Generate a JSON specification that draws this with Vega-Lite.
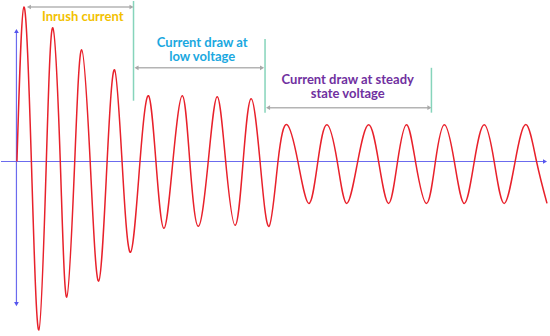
{
  "$schema": "https://vega.github.io/schema/vega-lite/v6.json",
  "width": 550,
  "height": 336,
  "autosize": {"type": "fit", "contains": "padding"},
  "padding": 0,
  "background": "white",
  "config": {"view": {"stroke": null}},
  "datasets": {
    "wave": [
      {"t": 16, "i": 0}, {"t": 23, "i": 155}, {"t": 30.5, "i": 0}, {"t": 38, "i": -169},
      {"t": 45.5, "i": 0}, {"t": 52, "i": 134}, {"t": 59.5, "i": 0}, {"t": 66, "i": -136},
      {"t": 74, "i": 0}, {"t": 81, "i": 112}, {"t": 89.5, "i": 0}, {"t": 98, "i": -120},
      {"t": 106.5, "i": 0}, {"t": 114, "i": 92}, {"t": 121.5, "i": 0}, {"t": 130, "i": -91},
      {"t": 139.5, "i": 0}, {"t": 148, "i": 66}, {"t": 155.5, "i": 0}, {"t": 163.5, "i": -67},
      {"t": 172.5, "i": 0}, {"t": 182, "i": 66}, {"t": 189.5, "i": 0}, {"t": 198, "i": -65},
      {"t": 208, "i": 0}, {"t": 217, "i": 65}, {"t": 225.5, "i": 0}, {"t": 235, "i": -64},
      {"t": 243, "i": 0}, {"t": 251, "i": 63}, {"t": 260, "i": 0}, {"t": 269, "i": -65},
      {"t": 278, "i": 0}, {"t": 287, "i": 37}, {"t": 298, "i": 0}, {"t": 309, "i": -42},
      {"t": 318, "i": 0}, {"t": 327, "i": 37}, {"t": 337.5, "i": 0}, {"t": 347, "i": -42},
      {"t": 358, "i": 0}, {"t": 369, "i": 37}, {"t": 379, "i": 0}, {"t": 389, "i": -42},
      {"t": 398, "i": 0}, {"t": 407, "i": 37}, {"t": 416, "i": 0}, {"t": 427, "i": -42},
      {"t": 436, "i": 0}, {"t": 445, "i": 37}, {"t": 455, "i": 0}, {"t": 465, "i": -42},
      {"t": 475, "i": 0}, {"t": 485, "i": 37}, {"t": 495, "i": 0}, {"t": 505, "i": -42},
      {"t": 516, "i": 0}, {"t": 527, "i": 37}, {"t": 537.5, "i": 0}, {"t": 548, "i": -42}
    ],
    "guides": [
      {"g": "axis", "x": 0, "x2": 545, "y": 0, "y2": 0},
      {"g": "axis", "x": 15.5, "x2": 15.5, "y": 130, "y2": -142},
      {"g": "marker", "x": 133, "x2": 133, "y": 161, "y2": 61},
      {"g": "marker", "x": 265, "x2": 265, "y": 123, "y2": 49},
      {"g": "marker", "x": 432, "x2": 432, "y": 94, "y2": 49},
      {"g": "span", "x": 28, "x2": 131, "y": 155, "y2": 155},
      {"g": "span", "x": 136, "x2": 262, "y": 94, "y2": 94},
      {"g": "span", "x": 268, "x2": 430, "y": 54, "y2": 54}
    ],
    "heads": [
      {"g": "axis", "dir": "right", "x": 546, "y": 0},
      {"g": "axis", "dir": "up", "x": 15.5, "y": 131},
      {"g": "axis", "dir": "down", "x": 15.5, "y": -143},
      {"g": "span", "dir": "left", "x": 28, "y": 155},
      {"g": "span", "dir": "right", "x": 131, "y": 155},
      {"g": "span", "dir": "left", "x": 136, "y": 94},
      {"g": "span", "dir": "right", "x": 262, "y": 94},
      {"g": "span", "dir": "left", "x": 268, "y": 54},
      {"g": "span", "dir": "right", "x": 430, "y": 54}
    ],
    "labels": [
      {"phase": "inrush", "text": "Inrush current", "x": 82, "y": 145},
      {"phase": "low", "text": "Current draw at\nlow voltage", "x": 202, "y": 119},
      {"phase": "steady", "text": "Current draw at steady\nstate voltage", "x": 348, "y": 82}
    ]
  },
  "layer": [
    {
      "data": {"name": "guides"},
      "transform": [{"filter": "datum.g == 'axis'"}],
      "mark": {"type": "rule", "color": "#6b6bee", "strokeWidth": 1.2},
      "encoding": {
        "x": {"field": "x", "type": "quantitative", "scale": {"domain": [0, 550], "nice": false, "zero": false}, "axis": null},
        "x2": {"field": "x2"},
        "y": {"field": "y", "type": "quantitative", "scale": {"domain": [-175, 161], "nice": false, "zero": false}, "axis": null},
        "y2": {"field": "y2"}
      }
    },
    {
      "data": {"name": "guides"},
      "transform": [{"filter": "datum.g == 'marker'"}],
      "mark": {"type": "rule", "color": "#86d4bb", "strokeWidth": 1.5},
      "encoding": {
        "x": {"field": "x", "type": "quantitative"},
        "x2": {"field": "x2"},
        "y": {"field": "y", "type": "quantitative"},
        "y2": {"field": "y2"}
      }
    },
    {
      "data": {"name": "guides"},
      "transform": [{"filter": "datum.g == 'span'"}],
      "mark": {"type": "rule", "color": "#b4b4b4", "strokeWidth": 1.5},
      "encoding": {
        "x": {"field": "x", "type": "quantitative"},
        "x2": {"field": "x2"},
        "y": {"field": "y", "type": "quantitative"},
        "y2": {"field": "y2"}
      }
    },
    {
      "data": {"name": "heads"},
      "transform": [{"filter": "datum.g == 'axis'"}],
      "mark": {"type": "point", "filled": true, "color": "#5555ee", "size": 22, "opacity": 1},
      "encoding": {
        "x": {"field": "x", "type": "quantitative"},
        "y": {"field": "y", "type": "quantitative"},
        "shape": {"field": "dir", "type": "nominal", "scale": {"domain": ["up", "down", "left", "right"], "range": ["triangle-up", "triangle-down", "triangle-left", "triangle-right"]}, "legend": null}
      }
    },
    {
      "data": {"name": "heads"},
      "transform": [{"filter": "datum.g == 'span'"}],
      "mark": {"type": "point", "filled": true, "color": "#a8a8a8", "size": 22, "opacity": 1},
      "encoding": {
        "x": {"field": "x", "type": "quantitative"},
        "y": {"field": "y", "type": "quantitative"},
        "shape": {"field": "dir", "type": "nominal", "legend": null}
      }
    },
    {
      "data": {"name": "wave"},
      "mark": {"type": "line", "color": "#e8212b", "strokeWidth": 1.5, "interpolate": "natural"},
      "encoding": {
        "x": {"field": "t", "type": "quantitative"},
        "y": {"field": "i", "type": "quantitative"}
      }
    },
    {
      "data": {"name": "labels"},
      "mark": {"type": "text", "font": "Lato", "fontWeight": "bold", "fontSize": 13, "align": "center", "baseline": "middle", "lineBreak": "\n", "lineHeight": 14.5},
      "encoding": {
        "x": {"field": "x", "type": "quantitative"},
        "y": {"field": "y", "type": "quantitative"},
        "text": {"field": "text"},
        "color": {"field": "phase", "type": "nominal", "scale": {"domain": ["inrush", "low", "steady"], "range": ["#f2c100", "#1aa8e0", "#7030a0"]}, "legend": null}
      }
    }
  ]
}
